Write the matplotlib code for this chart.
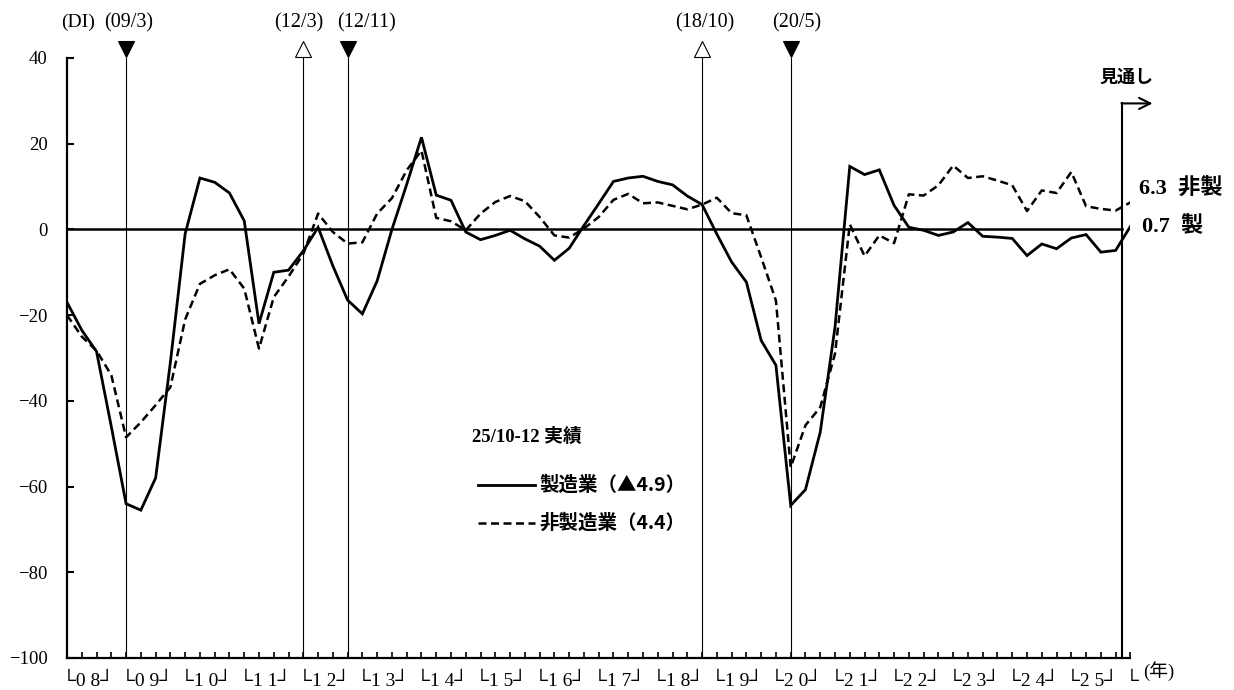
import matplotlib
matplotlib.use('Agg')
import matplotlib.pyplot as plt
import numpy as np

# quarterly DI, 2008Q1 .. 2025Q4 (actual), plus 2026Q1 outlook
mfg = [-17, -23.5, -28.5, -46, -64, -65.5, -58, -31, -1, 12, 11, 8.5,
       2, -22, -10, -9.5, -5, 0.5, -8.5, -16.5, -19.7, -12, 0, 10.5,
       21.5, 8, 6.8, -0.6, -2.4, -1.4, -0.2, -2.2, -3.9, -7.2, -4.4, 0.9,
       6, 11.2, 12, 12.4, 11.2, 10.4, 7.8, 5.8, -1.1, -7.6, -12.3, -25.9,
       -31.7, -64.4, -60.7, -47.3, -22.8, 14.7, 12.8, 13.9, 5.6, 0.5, -0.2, -1.4,
       -0.6, 1.6, -1.6, -1.8, -2.1, -6.1, -3.4, -4.5, -2.0, -1.2, -5.3, -4.9]
nonmfg = [-20, -25, -28.3, -34, -48.5, -45, -41, -36.8, -21, -12.7, -10.7, -9.3,
          -13.8, -27.8, -15.8, -11, -5.7, 3.7, -0.6, -3.3, -3, 3.7, 7.3, 13.8,
          18.4, 2.7, 1.9, -0.2, 3.7, 6.4, 7.8, 6.6, 2.9, -1.4, -1.9, 0.2,
          2.9, 6.9, 8.3, 6.1, 6.3, 5.5, 4.7, 5.8, 7.4, 3.8, 3.3, -6.5,
          -16.6, -55.5, -45.7, -41.5, -29, 1.2, -6.2, -1.4, -3.2, 8.2, 7.9, 10.3,
          14.9, 12, 12.4, 11.4, 10.3, 4.3, 9.1, 8.5, 13.4, 5.4, 4.8, 4.4]
mfg_outlook = 0.7
nonmfg_outlook = 6.3

years = ['08', '09', '10', '11', '12', '13', '14', '15', '16',
         '17', '18', '19', '20', '21', '22', '23', '24', '25']
# turning points: label, quarter index, trough (filled ▼) or peak (open △)
turns = [('(09/3)', 4, True), ('(12/3)', 16, False), ('(12/11)', 19, True),
         ('(18/10)', 43, False), ('(20/5)', 49, True)]
label_nudge = {'(09/3)': 0.15, '(12/3)': -0.3, '(12/11)': 1.3,
               '(18/10)': 0.2, '(20/5)': 0.4}

SERIF = ['Liberation Serif', 'Noto Sans CJK JP']
GOTH = ['Noto Sans CJK JP', 'DejaVu Sans']

fig = plt.figure(figsize=(12.34, 6.9), dpi=100)
ax = fig.add_axes([67 / 1234, 32 / 690, 1063.4 / 1234, 600 / 690])

n = len(mfg)
x = np.arange(n + 1)
ax.plot(x, mfg + [mfg_outlook], color='black', lw=2.0, solid_joinstyle='miter')
ax.plot(x, nonmfg + [nonmfg_outlook], color='black', lw=1.8, ls=(0, (3.2, 1.8)))

ax.set_xlim(0, n)
ax.set_ylim(-100, 40)

for s in ['top', 'right']:
    ax.spines[s].set_visible(False)
for s in ['left', 'bottom']:
    ax.spines[s].set_linewidth(1.6)

ax.set_yticks(range(-100, 41, 20))
ax.set_yticklabels(['\u2212100', '\u221280', '\u221260', '\u221240', '\u221220', '0', '20', '40'],
                   family=SERIF, fontsize=13.5)
ax.tick_params(axis='y', direction='in', length=5, width=1.5, pad=14)
ax.set_xticks(range(0, n + 1))
ax.set_xticklabels([])
ax.tick_params(axis='x', direction='in', length=4, width=1.2)

# zero line
xf = n - 0.55
ax.plot([0, xf], [0, 0], color='black', lw=1.8)

# turning points
for lab, q, filled in turns:
    ax.axvline(q, color='black', lw=0.8)
    ax.plot(q, 42.2, marker='v' if filled else '^', ms=12,
            mfc='black' if filled else 'white', mec='black', mew=0.8, clip_on=False)
    ax.text(q + label_nudge[lab], 48.3, lab, ha='center', va='center',
            family=SERIF, fontsize=14.5)

ax.text(0.75, 48.3, '(DI)', ha='center', va='center', family=SERIF, fontsize=14)

# outlook arrow
ax.plot([xf, xf], [-100, 29.4], color='black', lw=1.5, clip_on=False)
ax.annotate('', xy=(n + 1.5, 29.4), xytext=(xf - 0.05, 29.4),
            arrowprops=dict(arrowstyle='->', lw=1.5, color='black',
                            mutation_scale=20, shrinkA=0, shrinkB=0),
            annotation_clip=False)
ax.text(xf + 0.3, 35.6, '見通し', ha='center', va='center', family=GOTH,
        fontsize=13, fontweight='bold')
ax.text(n + 0.6, 9.4, f'{nonmfg_outlook}  非製', ha='left', va='center',
        family=SERIF, fontsize=16, fontweight='bold')
ax.text(n + 0.8, 0.6, f'{mfg_outlook}  製', ha='left', va='center',
        family=SERIF, fontsize=16, fontweight='bold')

# year labels
for k, yy in enumerate(years):
    ax.text(4 * k + 1.4, -105.4, '└' + yy[0] + ' ' + yy[1] + '┘', ha='center',
            va='center', family=SERIF, fontsize=14)
ax.text(n + 0.1, -105.4, '└', ha='center', va='center', family=SERIF, fontsize=14)
ax.text(n + 0.85, -103.0, '(年)', ha='left', va='center', family=SERIF, fontsize=13.5)

# legend
ax.text(27.4, -48.5, '25/10-12 実績', ha='left', va='center', family=SERIF,
        fontsize=13.5, fontweight='bold')
ax.plot([27.8, 31.7], [-59.7, -59.7], color='black', lw=2.0)
ax.text(32.0, -59.7, '製造業（▲4.9）', ha='left', va='center', family=GOTH,
        fontsize=14, fontweight='bold')
ax.plot([27.8, 31.7], [-68.6, -68.6], color='black', lw=1.8, ls=(0, (3.2, 1.8)))
ax.text(32.0, -68.6, '非製造業（4.4）', ha='left', va='center', family=GOTH,
        fontsize=14, fontweight='bold')

fig.savefig('out.png', dpi=100)
